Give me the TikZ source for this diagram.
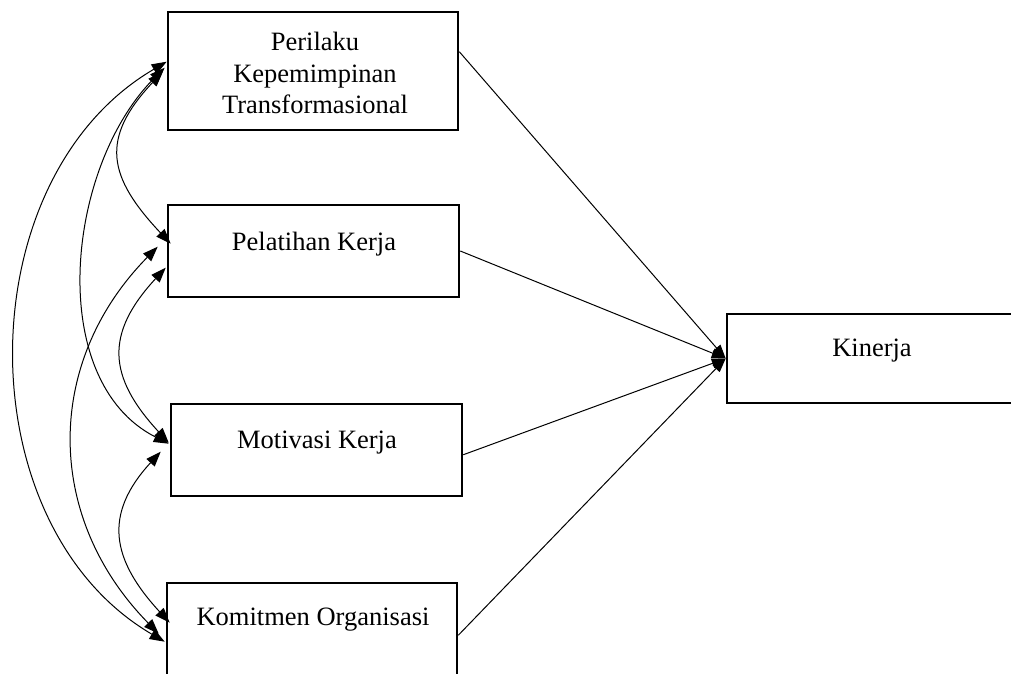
\documentclass[tikz,border=0pt]{standalone}
\usepackage{fontspec}
\setmainfont{Liberation Serif}
\usetikzlibrary{arrows.meta,calc}
\begin{document}
\begin{tikzpicture}[x=1pt,y=-1pt,
  box/.style={draw, rectangle, line width=2.6pt, inner sep=0pt},
  txt/.style={font=\fontsize{26.5}{31.5}\selectfont, inner sep=0pt, anchor=base},
  biarrow/.style={{Triangle[length=15pt,width=11pt]}-{Triangle[length=15pt,width=11pt]}, line width=1pt},
  karrow/.style={-{Triangle[length=14pt,width=10pt]}, line width=1pt}]
\useasboundingbox (0,0) rectangle (1011,673);
% boxes
\node[box, minimum width=290pt, minimum height=118pt] (b1) at (313,71) {};
\node[box, minimum width=291pt, minimum height=92pt] (b2) at (313.5,251) {};
\node[box, minimum width=291pt, minimum height=92pt] (b3) at (316.5,450) {};
\node[box, minimum width=290pt, minimum height=93pt] (b4) at (312,629.5) {};
\node[box, minimum width=292pt, minimum height=89pt] (kin) at (873,358.5) {};
% texts
\node[txt] (t1a) at (315,50) {Perilaku};
\node[txt] (t1b) at (315,82) {Kepemimpinan};
\node[txt] (t1c) at (315,113) {Transformasional};
\node[txt] (t2) at (314,250) {Pelatihan Kerja};
\node[txt] (t3) at (317,448) {Motivasi Kerja};
\node[txt] (t4) at (313,625) {Komitmen Organisasi};
\node[txt] (tk) at (872,356) {Kinerja};
% arrows to Kinerja
\draw[karrow] ($(b1.north east)!0.34!(b1.south east)$) -- (kin.west);
\draw[karrow] (b2.east) -- (kin.west);
\draw[karrow] ($(b3.north east)!0.55!(b3.south east)$) -- (kin.west);
\draw[karrow] ($(b4.north east)!0.56!(b4.south east)$) -- (kin.west);
% correlation curve end points
\coordinate (a1) at ($(b1.north west)+(0,51)$);
\coordinate (a4) at ($(b4.north west)+(-1,60)$);
\coordinate (bb1) at ($(b1.north west)+(-2,57)$);
\coordinate (bb3) at ($(b3.north west)+(-1,41)$);
\coordinate (c1) at ($(b1.north west)+(-4,61)$);
\coordinate (c2) at ($(b2.north west)+(4,40)$);
\coordinate (d2) at ($(b2.north west)+(-9,43)$);
\coordinate (d4) at ($(b4.north west)+(-7,52)$);
\coordinate (e2) at ($(b2.north west)+(-1,64)$);
\coordinate (e3) at ($(b3.north west)+(-1,40)$);
\coordinate (f3) at ($(b3.north west)+(-9,49)$);
\coordinate (f4) at ($(b4.north west)+(4,41)$);
% correlation curves
\draw[biarrow] (a1) .. controls +(-200,117) and +(-200,-117) .. (a4);
\draw[biarrow] (bb1) .. controls +(-99,99) and +(-124,-63) .. (bb3);
\draw[biarrow] (c1) .. controls +(-63,67) and +(-63,-67) .. (c2);
\draw[biarrow] (d2) .. controls +(-114,116) and +(-114,-116) .. (d4);
\draw[biarrow] (e2) .. controls +(-61,66) and +(-61,-66) .. (e3);
\draw[biarrow] (f3) .. controls +(-58,63) and +(-58,-63) .. (f4);
\end{tikzpicture}
\end{document}
